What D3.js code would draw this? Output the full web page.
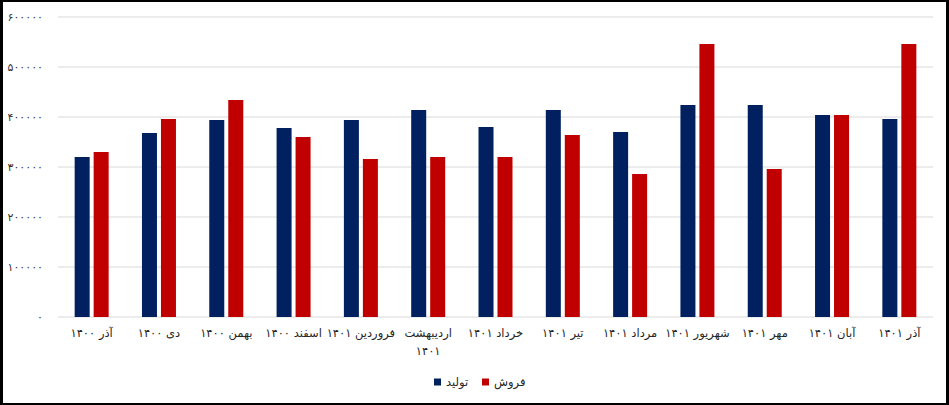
<!DOCTYPE html>
<html lang="fa">
<head>
<meta charset="UTF-8">
<title>تولید و فروش</title>
<script src="https://d3js.org/d3.v7.min.js"></script>
<style>
  body { margin: 0; background: #000; }
  svg { display: block; }
  text { font-family: "DejaVu Sans", sans-serif; fill: #262626; }
</style>
</head>
<body>
<svg id="chart" width="949" height="405"></svg>
<script>
// categories (month labels) and the two series
const categories = ["آذر ۱۴۰۰", "دی ۱۴۰۰", "بهمن ۱۴۰۰", "اسفند ۱۴۰۰", "فروردین ۱۴۰۱", "اردیبهشت ۱۴۰۱",
  "خرداد ۱۴۰۱", "تیر ۱۴۰۱", "مرداد ۱۴۰۱", "شهریور ۱۴۰۱", "مهر ۱۴۰۱", "آبان ۱۴۰۱", "آذر ۱۴۰۱"];
const seriesNames = ["تولید", "فروش"];
const production = [320000, 368000, 394000, 378000, 394000, 414000, 380000, 414000, 370000, 424000, 424000, 404000, 396000];
const sales = [330000, 396000, 434000, 360000, 316000, 320000, 320000, 364000, 286000, 546000, 296000, 404000, 546000];
const yTicks = [0, 100000, 200000, 300000, 400000, 500000, 600000];
const colors = ["#002060", "#C00000"];

const faDigits = s => String(s).replace(/\d/g, d => "۰۱۲۳۴۵۶۷۸۹"[d]);

const svg = d3.select("#chart");
// black frame
svg.append("rect").attr("x", 3).attr("y", 2).attr("width", 943).attr("height", 401).attr("fill", "#fff");

const plotLeft = 58, plotRight = 933, plotTop = 17, plotBottom = 317;

const x0 = d3.scaleBand().domain(categories).range([plotLeft, plotRight]).paddingInner(0.495).paddingOuter(0.2475);
const x1 = d3.scaleBand().domain(seriesNames).range([0, x0.bandwidth()]).paddingInner(0.21);
const y = d3.scaleLinear().domain([0, 600000]).range([plotBottom, plotTop]);

// gridlines
svg.append("g").selectAll("line").data(yTicks).join("line")
  .attr("x1", plotLeft).attr("x2", plotRight)
  .attr("y1", d => y(d)).attr("y2", d => y(d))
  .attr("stroke", "#d9d9d9").attr("stroke-width", 1);

// y axis labels
const yAxis = svg.append("g").attr("transform", `translate(${plotLeft - 2},0)`)
  .call(d3.axisLeft(y).tickValues(yTicks).tickSize(0).tickPadding(13).tickFormat(d => faDigits(d)));
yAxis.select(".domain").remove();
yAxis.selectAll("text").attr("font-size", 11).style("fill", "#333").attr("font-family", "DejaVu Sans");

// bars
const groups = svg.append("g").selectAll("g").data(categories).join("g")
  .attr("transform", d => `translate(${x0(d)},0)`);
groups.selectAll("rect")
  .data((d, i) => [{ s: seriesNames[0], v: production[i], c: colors[0] }, { s: seriesNames[1], v: sales[i], c: colors[1] }])
  .join("rect")
  .attr("x", d => x1(d.s))
  .attr("width", x1.bandwidth())
  .attr("y", d => y(d.v))
  .attr("height", d => plotBottom - y(d.v))
  .attr("fill", d => d.c);

// x labels (long one wraps)
const xl = svg.append("g").selectAll("text").data(categories).join("text")
  .attr("x", d => x0(d) + x0.bandwidth() / 2)
  .attr("y", 337)
  .attr("text-anchor", "middle")
  .attr("font-size", 11.5);
xl.each(function (d) {
  const t = d3.select(this);
  const parts = d.length > 12 ? d.split(" ") : [d];
  parts.forEach((p, i) => {
    t.append("tspan").attr("x", t.attr("x")).attr("dy", i ? 18 : 0).text(p);
  });
});

// legend
const legend = svg.append("g").attr("transform", "translate(434,376)");
const items = [{ name: seriesNames[0], c: colors[0], x: 0 }, { name: seriesNames[1], c: colors[1], x: 48 }];
items.forEach(it => {
  legend.append("rect").attr("x", it.x).attr("y", 2.5).attr("width", 7).attr("height", 7).attr("fill", it.c);
  legend.append("text").attr("x", it.x + 12).attr("y", 10).attr("font-size", 11.5).text(it.name);
});
</script>
</body>
</html>
